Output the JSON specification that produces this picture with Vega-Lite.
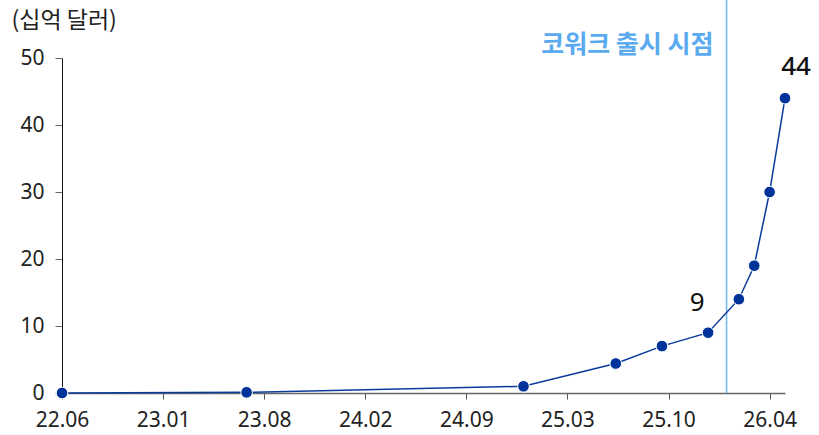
{
  "$schema": "https://vega.github.io/schema/vega-lite/v6.json",
  "width": 723,
  "height": 335,
  "autosize": {"type": "none"},
  "padding": {"left": 62, "top": 58, "right": 34, "bottom": 42},
  "background": "white",
  "config": {"view": {"stroke": null}},
  "datasets": {
    "rev": [
      {"month": 0, "value": 0},
      {"month": 12, "value": 0.1},
      {"month": 30, "value": 1},
      {"month": 36, "value": 4.4},
      {"month": 39, "value": 7},
      {"month": 42, "value": 9},
      {"month": 44, "value": 14},
      {"month": 45, "value": 19},
      {"month": 46, "value": 30},
      {"month": 47, "value": 44}
    ],
    "labels": [
      {"month": 42, "value": 9, "label": "9"},
      {"month": 47, "value": 44, "label": "44"}
    ],
    "event": [
      {"month": 43.2, "lo": 0, "hi": 62, "labelY": 52, "label": "코워크 출시 시점"}
    ]
  },
  "layer": [
    {
      "data": {"name": "event"},
      "mark": {"type": "rule", "color": "#6cb4f2", "strokeWidth": 1.5, "clip": false},
      "encoding": {
        "x": {"field": "month", "type": "quantitative"},
        "y": {"field": "lo", "type": "quantitative"},
        "y2": {"field": "hi"}
      }
    },
    {
      "data": {"name": "event"},
      "mark": {"type": "text", "align": "right", "baseline": "middle", "dx": -13, "font": "Noto Sans CJK KR", "fontSize": 25, "fontWeight": "bold", "color": "#5aaaf0"},
      "encoding": {
        "x": {"field": "month", "type": "quantitative"},
        "y": {"field": "labelY", "type": "quantitative"},
        "text": {"field": "label"}
      }
    },
    {
      "data": {"name": "rev"},
      "mark": {"type": "line", "color": "#0a3a9a", "strokeWidth": 1.5},
      "encoding": {
        "x": {
          "field": "month", "type": "quantitative",
          "scale": {"domain": [0, 47], "nice": false, "zero": false},
          "axis": {
            "title": null,
            "values": [0, 6.5714, 13.1429, 19.7143, 26.2857, 32.8571, 39.4286, 46],
            "labelExpr": "['22.06','23.01','23.08','24.02','24.09','25.03','25.10','26.04'][round(datum.value / (46/7))]",
            "labelFlush": false,
            "labelOverlap": false,
            "grid": false,
            "domainColor": "#666666",
            "domainWidth": 1.5,
            "tickColor": "#555555",
            "tickSize": 6,
            "labelPadding": 10,
            "labelFont": "Noto Sans",
            "labelFontSize": 21,
            "labelColor": "#222222"
          }
        },
        "y": {
          "field": "value", "type": "quantitative",
          "scale": {"domain": [0, 50], "nice": false},
          "axis": {
            "title": "(십억 달러)",
            "titleAngle": 0,
            "titleAlign": "left",
            "titleBaseline": "middle",
            "titleX": -51,
            "titleY": -38,
            "titleFont": "Noto Sans CJK KR",
            "titleFontSize": 23,
            "titleFontWeight": "normal",
            "titleColor": "#222222",
            "values": [0, 10, 20, 30, 40, 50],
            "labelFlush": false,
            "grid": false,
            "domainColor": "#111111",
            "tickColor": "#666666",
            "tickSize": 7,
            "labelPadding": 11,
            "labelFont": "Noto Sans",
            "labelFontSize": 21,
            "labelColor": "#222222"
          }
        }
      }
    },
    {
      "data": {"name": "rev"},
      "mark": {"type": "point", "filled": true, "size": 135, "color": "#003399", "opacity": 1, "stroke": "white", "strokeWidth": 1},
      "encoding": {
        "x": {"field": "month", "type": "quantitative"},
        "y": {"field": "value", "type": "quantitative"}
      }
    },
    {
      "data": {"name": "labels"},
      "transform": [{"filter": "datum.label == '9'"}],
      "mark": {"type": "text", "align": "center", "baseline": "middle", "dx": -11, "dy": -30, "font": "Noto Sans", "fontSize": 26, "color": "#111111"},
      "encoding": {
        "x": {"field": "month", "type": "quantitative"},
        "y": {"field": "value", "type": "quantitative"},
        "text": {"field": "label"}
      }
    },
    {
      "data": {"name": "labels"},
      "transform": [{"filter": "datum.label == '44'"}],
      "mark": {"type": "text", "align": "center", "baseline": "middle", "dx": 11, "dy": -31, "font": "Noto Sans", "fontSize": 26, "fontWeight": 500, "color": "#111111"},
      "encoding": {
        "x": {"field": "month", "type": "quantitative"},
        "y": {"field": "value", "type": "quantitative"},
        "text": {"field": "label"}
      }
    }
  ]
}
